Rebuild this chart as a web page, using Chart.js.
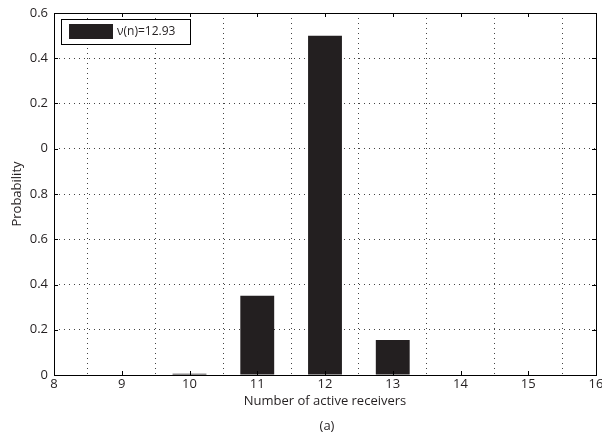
<!DOCTYPE html>
<html>
<head>
<meta charset="utf-8">
<script src="https://cdn.jsdelivr.net/npm/chart.js@4/dist/chart.umd.min.js"></script>
<style>
  html, body { margin: 0; padding: 0; background: #fff; }
  #wrap { width: 602px; height: 437px; }
</style>
</head>
<body>
<div id="wrap"><canvas id="chart"></canvas></div>
<script>
// receivers count on x, probability on y (axis units as drawn)
const receivers = [9, 10, 11, 12, 13, 14, 15];
const probability = [0, 0.005, 0.35, 1.5, 0.155, 0, 0];
const xTicks = [8, 9, 10, 11, 12, 13, 14, 15, 16];
const yTickLabels = ["0", "0.2", "0.4", "0.6", "0.8", "0", "0.2", "0.4", "0.6"];
const legendLabel = "\u03bd(n)=12.93";

const ink = "#231f20";
const fontFamily = "'Open Sans', 'Liberation Sans', sans-serif";

const framePlugin = {
  id: "frame",
  afterDraw(chart) {
    const ctx = chart.ctx;
    const a = chart.chartArea;
    const xs = chart.scales.x;
    const ys = chart.scales.y;
    ctx.save();
    ctx.strokeStyle = "#000";
    ctx.lineWidth = 1;
    ctx.strokeRect(Math.round(a.left) + 0.5, Math.round(a.top) + 0.5,
      Math.round(a.right - a.left), Math.round(a.bottom - a.top));
    // inward tick marks
    ctx.beginPath();
    xTicks.forEach(t => {
      const px = Math.round(xs.getPixelForValue(t)) + 0.5;
      ctx.moveTo(px, a.bottom); ctx.lineTo(px, a.bottom - 4);
      ctx.moveTo(px, a.top); ctx.lineTo(px, a.top + 4);
    });
    yTickLabels.forEach((lab, i) => {
      const py = Math.round(ys.getPixelForValue(i * 0.2)) + 0.5;
      ctx.moveTo(a.left, py); ctx.lineTo(a.left + 4, py);
      ctx.moveTo(a.right, py); ctx.lineTo(a.right - 4, py);
    });
    ctx.stroke();

    // legend box
    ctx.fillStyle = "#fff";
    ctx.fillRect(61, 19, 129, 25);
    ctx.strokeRect(61.5, 19.5, 129, 25);
    ctx.fillStyle = ink;
    ctx.fillRect(69, 24, 44, 15);
    ctx.font = "12px " + fontFamily;
    ctx.textBaseline = "middle";
    ctx.textAlign = "left";
    ctx.fillText(legendLabel, 117, 32);

    // panel caption
    ctx.textAlign = "center";
    ctx.font = "13px " + fontFamily;
    ctx.fillText("(a)", 327, 426);
    ctx.restore();
  }
};

new Chart(document.getElementById("chart"), {
  type: "bar",
  data: {
    datasets: [{
      label: legendLabel,
      data: receivers.map((r, i) => ({ x: r, y: probability[i] })),
      backgroundColor: ink,
      borderWidth: 0,
      barPercentage: 0.5,
      categoryPercentage: 1
    }]
  },
  options: {
    responsive: true,
    maintainAspectRatio: false,
    animation: false,
    layout: { padding: { left: 0, right: 6, top: 13, bottom: 28 } },
    plugins: { legend: { display: false }, tooltip: { enabled: false } },
    scales: {
      x: {
        type: "linear",
        min: 8,
        max: 16,
        offset: false,
        afterFit(s) { s.height = 34; s.paddingLeft = 0; s.paddingRight = 0; },
        afterBuildTicks(s) { s.ticks = xTicks.map(v => ({ value: v })); },
        ticks: { color: ink, font: { family: fontFamily, size: 13 }, padding: 1, maxRotation: 0 },
        grid: {
          color: "#444",
          lineWidth: 1,
          drawTicks: false,
          tickLength: 0
        },
        border: { display: false, dash: [1, 4] },
        title: {
          display: true,
          text: "Number of active receivers",
          color: ink,
          font: { family: fontFamily, size: 13 },
          padding: { top: 0, bottom: 0 }
        }
      },
      y: {
        min: 0,
        max: 1.6,
        afterFit(s) { s.width = 54; s.paddingTop = 0; s.paddingBottom = 0; },
        ticks: {
          stepSize: 0.2,
          color: ink,
          font: { family: fontFamily, size: 13 },
          padding: 6,
          callback: (v, i) => yTickLabels[i]
        },
        grid: { color: "#444", lineWidth: 1, drawTicks: false },
        border: { display: false, dash: [1, 4] },
        title: {
          display: true,
          text: "Probability",
          color: ink,
          font: { family: fontFamily, size: 13 },
          padding: { top: 9, bottom: 0 }
        }
      }
    }
  },
  plugins: [framePlugin]
});
</script>
</body>
</html>
